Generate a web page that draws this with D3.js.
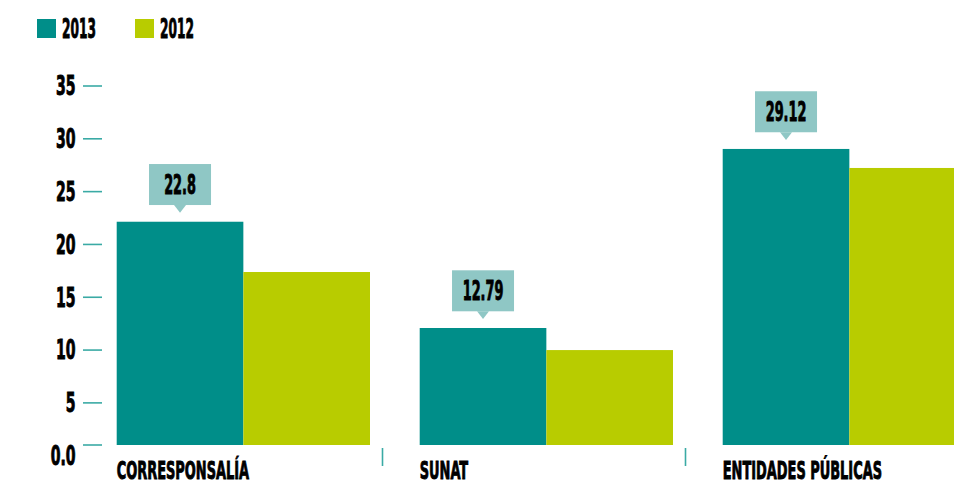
<!DOCTYPE html>
<html>
<head>
<meta charset="utf-8">
<script src="https://cdn.jsdelivr.net/npm/d3@7"></script>
<style>
  html, body { margin: 0; padding: 0; background: #fff; }
  svg { display: block; }
  text { font-family: "Liberation Sans Narrow", "DejaVu Sans Condensed", "Liberation Sans", sans-serif; font-weight: bold; fill: #000; stroke: #000; stroke-width: 0.9px; }
</style>
</head>
<body>
<svg id="chart" width="954" height="485"></svg>
<script>
// ---- data ----
const categories = ["CORRESPONSALÍA", "SUNAT", "ENTIDADES PÚBLICAS"];
const series = ["2013", "2012"];
const values2013 = [22.15, 12.09, 29.04];
const values2012 = [17.39, 10.0, 27.24];
const labels2013 = ["22.8", "12.79", "29.12"];
const yTicks = [0, 5, 10, 15, 20, 25, 30, 35];
const yTickLabels = ["0.0", "5", "10", "15", "20", "25", "30", "35"];

// ---- style ----
const colors = { "2013": "#008e89", "2012": "#b8cc00" };
const boxColor = "#8fc7c5";
const tickColor = "#3aaaa5";
const fontSize = 26;
const catFontSize = 25;

const svg = d3.select("#chart");
const baselineY = 445;

const y = d3.scaleLinear().domain([0, 35]).range([455.7, 86]);
const x0 = d3.scaleBand().domain(categories).range([80, 989]).padding(0);
const x1 = d3.scaleBand().domain(series).range([36.7, 290]).padding(0);

// condensed text: horizontally scaled group so bounds stay true
function addText(parent, x, yy, str, size, k, anchor) {
  const g = parent.append("g").attr("transform", `translate(${x},${yy}) scale(${k},1)`);
  g.append("text").attr("x", 0).attr("y", 0).attr("font-size", size)
    .attr("text-anchor", anchor || "start").text(str);
  return g;
}

// legend
const legend = svg.append("g");
const legX = [37, 135];
series.forEach((s, i) => {
  legend.append("rect").attr("x", legX[i]).attr("y", 19).attr("width", 19).attr("height", 19).attr("fill", colors[s]);
  addText(legend, legX[i] + 25, 37.5, s, fontSize, 0.52);
});

// y axis (custom ticks)
const yAxis = svg.append("g");
yTicks.forEach((t, i) => {
  const ty = t === 0 ? baselineY : y(t);
  yAxis.append("line").attr("x1", 83).attr("x2", 102).attr("y1", ty).attr("y2", ty)
    .attr("stroke", tickColor).attr("stroke-width", 1.6);
  addText(yAxis, 75.5, y(t) + 9.3, yTickLabels[i], fontSize, 0.6, "end");
});

// x axis ticks between groups
categories.forEach((c, i) => {
  if (i === 0) return;
  const tx = x0(c) - 0.5;
  svg.append("line").attr("x1", tx).attr("x2", tx).attr("y1", 448).attr("y2", 466)
    .attr("stroke", tickColor).attr("stroke-width", 1.6);
});

// bars
const data = categories.map((c, i) => ({ cat: c, vals: [values2013[i], values2012[i]], label: labels2013[i] }));
const groups = svg.selectAll("g.grp").data(data).join("g").attr("class", "grp")
  .attr("transform", d => `translate(${x0(d.cat)},0)`);

groups.selectAll("rect.bar").data(d => series.map((s, j) => ({ s, v: d.vals[j] })))
  .join("rect").attr("class", "bar")
  .attr("x", d => x1(d.s)).attr("width", x1.bandwidth())
  .attr("y", d => y(d.v)).attr("height", d => baselineY - y(d.v))
  .attr("fill", d => colors[d.s]);

// value callouts above 2013 bars + category labels
groups.each(function (d) {
  const g = d3.select(this);
  const cx = x1("2013") + x1.bandwidth() / 2;
  const top = y(d.vals[0]);
  const bw = 62, bh = 41;
  const bBottom = top - 16.7;
  g.append("rect").attr("x", cx - bw / 2).attr("y", bBottom - bh).attr("width", bw).attr("height", bh).attr("fill", boxColor);
  g.append("path").attr("d", `M${cx - 6},${bBottom} L${cx + 6},${bBottom} L${cx},${top - 9} Z`).attr("fill", boxColor);
  addText(g, cx, bBottom - bh / 2 + 9.3, d.label, fontSize, 0.55, "middle");
  addText(g, x1("2013"), 479, d.cat, catFontSize, 0.576);
});
</script>
</body>
</html>
